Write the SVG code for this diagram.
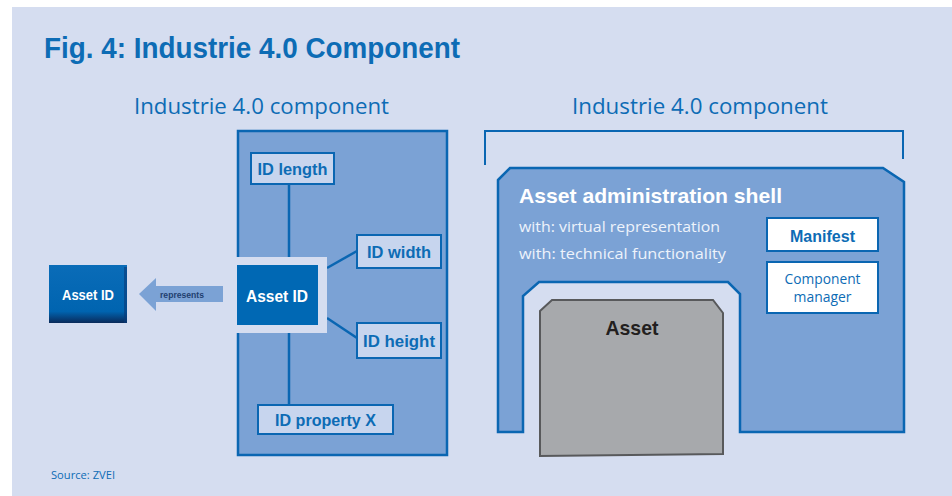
<svg xmlns="http://www.w3.org/2000/svg" width="952" height="496" viewBox="0 0 952 496">
<defs>
<style>
.t{font-family:"Liberation Sans",Arial,sans-serif;}
.r{font-family:"Open Sans","Liberation Sans",Arial,sans-serif;}
.panel{fill:#7ba2d5;stroke:#0a66b2;stroke-width:2.5;}
.node{fill:#c7d5ee;stroke:#0a66b2;stroke-width:2;}
.nodetxt{font-family:"Liberation Sans",Arial,sans-serif;font-weight:bold;font-size:16px;fill:#0d6cb5;text-anchor:middle;}
.line{stroke:#0a66b2;stroke-width:2.5;fill:none;}
.wbox{fill:#ffffff;stroke:#0a66b2;stroke-width:2;}
</style>
<linearGradient id="bev" x1="0" y1="0" x2="0" y2="1">
<stop offset="0" stop-color="#0a6cb8"/>
<stop offset="0.8" stop-color="#0064b0"/>
<stop offset="1" stop-color="#0a2a5a"/>
</linearGradient>
</defs>
<rect x="0" y="0" width="952" height="496" fill="#ffffff"/>
<rect x="12" y="7" width="940" height="489" fill="#d5ddf0"/>
<text class="t" x="44" y="58" font-size="29" font-weight="bold" fill="#0d6cb5" textLength="416" lengthAdjust="spacingAndGlyphs">Fig. 4: Industrie 4.0 Component</text>
<text class="r" x="134" y="114" font-size="21" fill="#0d6cb5" textLength="255" lengthAdjust="spacingAndGlyphs">Industrie 4.0 component</text>
<text class="r" x="572" y="114" font-size="21" fill="#0d6cb5" textLength="256" lengthAdjust="spacingAndGlyphs">Industrie 4.0 component</text>
<text class="r" x="51" y="479" font-size="10" fill="#0d6cb5" textLength="64" lengthAdjust="spacingAndGlyphs">Source: ZVEI</text>

<g id="left-panel">
<rect class="panel" x="238" y="131" width="209" height="324"/>
</g>

<g id="connectors">
<line class="line" x1="289" y1="184" x2="289" y2="258"/>
<line class="line" x1="289" y1="333" x2="289" y2="405"/>
<line class="line" x1="327" y1="268" x2="357" y2="251"/>
<line class="line" x1="327" y1="318" x2="357" y2="338"/>
<polygon points="139,294 156,278 156,286 223,286 223,302 156,302 156,311" fill="#7ba2d5"/>
<text class="t" x="182" y="298" font-size="9" font-weight="bold" fill="#1f3f70" text-anchor="middle" textLength="44" lengthAdjust="spacingAndGlyphs">represents</text>
</g>

<g id="asset-id-ext">
<rect x="49" y="265" width="78" height="58" fill="url(#bev)"/>
<rect x="124" y="267" width="3" height="56" fill="#0a3a78" opacity="0.6"/>
<text class="t" x="88" y="300" font-size="15" font-weight="bold" fill="#ffffff" text-anchor="middle" textLength="52" lengthAdjust="spacingAndGlyphs">Asset ID</text>
</g>

<g id="asset-id">
<rect x="229" y="257" width="98" height="76" fill="#d5ddf0"/>
<rect x="237" y="265" width="81" height="60" fill="#0068b4"/>
<text class="t" x="277" y="302" font-size="16" font-weight="bold" fill="#ffffff" text-anchor="middle" textLength="62" lengthAdjust="spacingAndGlyphs">Asset ID</text>
</g>

<g id="id-length">
<rect class="node" x="251" y="153" width="83" height="31"/>
<text class="nodetxt" x="292.5" y="175" textLength="70" lengthAdjust="spacingAndGlyphs">ID length</text>
</g>
<g id="id-width">
<rect class="node" x="357" y="235" width="84" height="33"/>
<text class="nodetxt" x="399" y="258" textLength="64" lengthAdjust="spacingAndGlyphs">ID width</text>
</g>
<g id="id-height">
<rect class="node" x="357" y="323" width="84" height="35"/>
<text class="nodetxt" x="399" y="347" textLength="72" lengthAdjust="spacingAndGlyphs">ID height</text>
</g>
<g id="id-property-x">
<rect class="node" x="258" y="405" width="135" height="29"/>
<text class="nodetxt" x="325.5" y="426" textLength="101" lengthAdjust="spacingAndGlyphs">ID property X</text>
</g>

<g id="bracket">
<polyline points="485,165 485,131 903,131 903,159" fill="none" stroke="#0a66b2" stroke-width="2"/>
</g>

<g id="shell">
<polygon class="panel" points="498,180 510,168 883,168 904,182 904,432 740,432 740,294 728,282 539,282 523,296 523,432 498,432"/>
<text class="t" x="519" y="203" font-size="21" font-weight="bold" fill="#ffffff" textLength="263" lengthAdjust="spacingAndGlyphs">Asset administration shell</text>
<text class="r" x="519" y="232" font-size="15" fill="#eef3fb" textLength="201" lengthAdjust="spacingAndGlyphs">with: virtual representation</text>
<text class="r" x="519" y="259" font-size="15" fill="#eef3fb" textLength="207" lengthAdjust="spacingAndGlyphs">with: technical functionality</text>
</g>

<g id="manifest">
<rect class="wbox" x="767" y="218" width="111" height="33"/>
<text class="t" x="822.5" y="242" font-size="16" font-weight="bold" fill="#0d6cb5" text-anchor="middle" textLength="65" lengthAdjust="spacingAndGlyphs">Manifest</text>
</g>

<g id="component-manager">
<rect class="wbox" x="767" y="262" width="111" height="51"/>
<text class="r" x="822.5" y="284" font-size="14" fill="#0d6cb5" text-anchor="middle" textLength="76" lengthAdjust="spacingAndGlyphs">Component</text>
<text class="r" x="822.5" y="302" font-size="14" fill="#0d6cb5" text-anchor="middle" textLength="58" lengthAdjust="spacingAndGlyphs">manager</text>
</g>

<g id="asset">
<polygon points="540,311 552,300 713,300 723,313 723,454 540,456" fill="#a7a9ac" stroke="#58595b" stroke-width="2"/>
<text class="t" x="632" y="335" font-size="21" font-weight="bold" fill="#231f20" text-anchor="middle" textLength="53" lengthAdjust="spacingAndGlyphs">Asset</text>
</g>
</svg>
